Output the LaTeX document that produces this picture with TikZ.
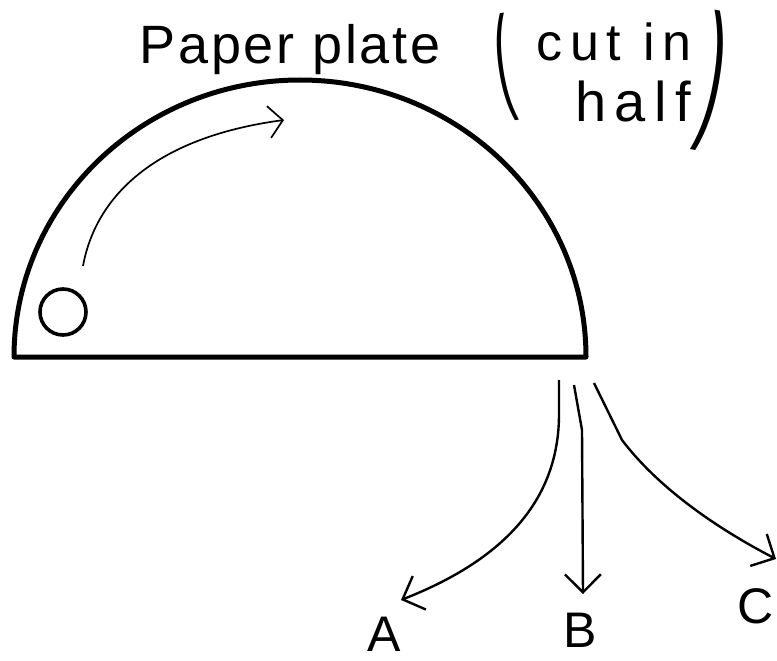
\documentclass[tikz,border=0pt]{standalone}
\usepackage{fontspec}
\setmainfont{Liberation Sans}
\usetikzlibrary{arrows.meta}
\tikzset{
  plate/.style={line width=5pt, line join=round},
  thin arrow/.style={line width=1.7pt, -{Straight Barb[length=14pt,width=32pt,line width=1.7pt]}},
  fork/.style={line width=2.4pt, -{Straight Barb[length=18pt,width=36pt,line width=2.4pt]}},
  title/.style={font=\fontsize{54}{60}\selectfont\addfontfeature{LetterSpace=5}, inner sep=0pt},
  note/.style={font=\fontsize{52}{58}\selectfont\addfontfeature{LetterSpace=15}, inner sep=0pt},
  letter/.style={font=\fontsize{50}{56}\selectfont, inner sep=0pt},
  paren/.style={font=\fontsize{40}{40}\selectfont, inner sep=0pt},
  hole/.style={circle, draw, line width=3.6pt, minimum size=46pt, inner sep=0pt}
}
\begin{document}
\begin{tikzpicture}[x=1pt,y=-1pt]
\useasboundingbox (0,0) rectangle (777,661);
% plate
\draw[plate] (14,357) -- (586,357) arc[start angle=0,end angle=-180,x radius=286,y radius=277] -- cycle;
\node[hole] (hole) at (63,312) {};
% rotation arrow
\coordinate (r0) at (83,266);
\coordinate (r1) at (284,120);
\draw[thin arrow] (r0) .. controls (95,200) and (150,138) .. (r1);
% title
\node[title] (ttl) at (290,50) {Paper plate};
\node[paren] (lp) at (504,68) {\rotatebox{8}{\scalebox{1.2}[2.9]{(}}};
\node[note] (cut) at (614,42) {cut in};
\node[note, font=\fontsize{56}{60}\selectfont\addfontfeature{LetterSpace=15}] (half) at (633,101) {half};
\node[paren] (rp) at (713,82) {\rotatebox{-10}{\scalebox{1.6}[3.8]{)}}};
% fork arrows
\coordinate (sa) at (559,380);
\coordinate (sb) at (574,385);
\coordinate (sc) at (594,383);
\coordinate (ta) at (401,600);
\coordinate (tb) at (583,594);
\coordinate (tc) at (776,559);
\draw[fork] (sa) -- (559,412) .. controls (560,510) and (490,565) .. (ta);
\draw[fork] (sb) -- (582,430) -- (tb);
\draw[fork] (sc) -- (622,440) .. controls (660,490) and (720,530) .. (tc);
\node[letter] (A) at (384,634) {A};
\node[letter] (B) at (580,630) {B};
\node[letter] (C) at (756,606) {C};
\end{tikzpicture}
\end{document}
